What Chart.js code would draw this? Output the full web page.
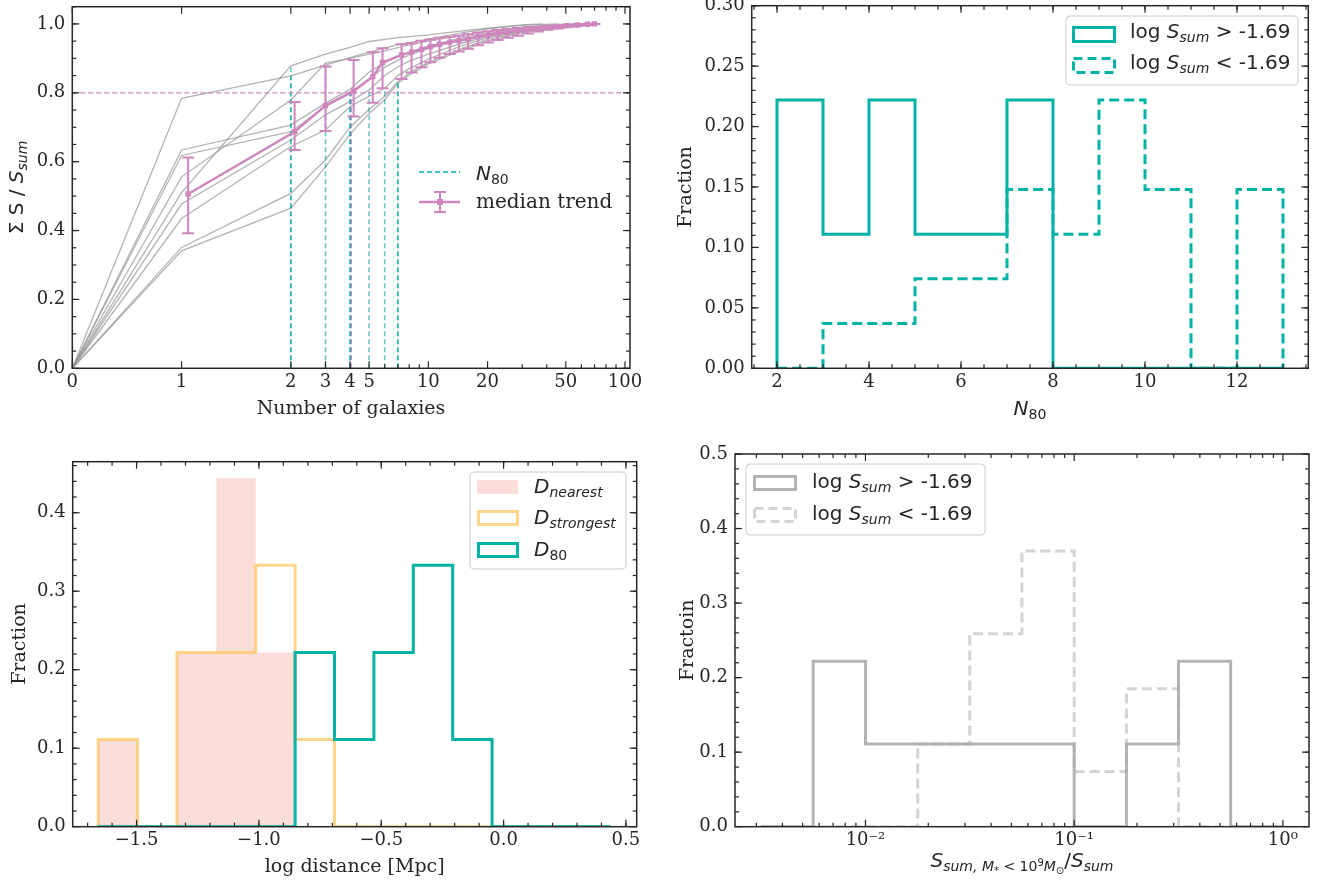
<!DOCTYPE html>
<html>
<head>
<meta charset="utf-8">
<script src="https://cdn.jsdelivr.net/npm/chart.js"></script>
<style>
  body { margin: 0; background: #fff; }
  #fig { position: relative; width: 1323px; height: 884px; overflow: hidden; }
  #fig canvas { position: absolute; }
</style>
</head>
<body>
<div id="fig">
  <canvas id="cum"></canvas>
  <canvas id="n80hist"></canvas>
  <canvas id="dist"></canvas>
  <canvas id="lowmass"></canvas>
</div>
<script>
// cumulative flux fraction vs. number of galaxies, one curve per bright group
const groupCurves = [
  [[0,0],[1,0.784],[2,0.849],[3,0.880],[4,0.902],[5,0.918],[6,0.930],[7,0.940],[8,0.946],[10,0.956],[15,0.975],[20,0.986],[30,0.996],[45,1.0]],
  [[0,0],[1,0.510],[2,0.878],[3,0.912],[4,0.932],[5,0.949],[6,0.955],[7,0.960],[8,0.963],[10,0.968],[15,0.980],[20,0.988],[30,0.997],[38,1.0]],
  [[0,0],[1,0.556],[2,0.779],[3,0.886],[4,0.900],[5,0.912],[6,0.922],[7,0.931],[8,0.939],[10,0.950],[15,0.968],[20,0.979],[30,0.990],[50,1.0]],
  [[0,0],[1,0.634],[2,0.706],[3,0.770],[4,0.810],[5,0.860],[6,0.888],[7,0.906],[8,0.918],[10,0.936],[15,0.960],[20,0.974],[30,0.988],[55,1.0]],
  [[0,0],[1,0.618],[2,0.687],[3,0.760],[4,0.800],[5,0.840],[6,0.874],[7,0.895],[8,0.910],[10,0.928],[15,0.955],[20,0.970],[30,0.985],[60,1.0]],
  [[0,0],[1,0.477],[2,0.663],[3,0.736],[4,0.775],[5,0.808],[6,0.850],[7,0.875],[8,0.892],[10,0.912],[15,0.945],[20,0.964],[30,0.983],[65,1.0]],
  [[0,0],[1,0.435],[2,0.644],[3,0.692],[4,0.760],[5,0.790],[6,0.813],[7,0.850],[8,0.870],[10,0.898],[15,0.938],[20,0.960],[30,0.980],[70,1.0]],
  [[0,0],[1,0.351],[2,0.508],[3,0.605],[4,0.700],[5,0.752],[6,0.790],[7,0.832],[8,0.858],[10,0.888],[15,0.930],[20,0.955],[30,0.978],[72,1.0]],
  [[0,0],[1,0.341],[2,0.465],[3,0.585],[4,0.680],[5,0.740],[6,0.780],[7,0.828],[8,0.852],[10,0.884],[15,0.925],[20,0.950],[30,0.975],[75,1.0]]
];
const groupN80 = [2, 2, 3, 4, 4, 5, 6, 7, 7];

// median trend with 1-sigma spread
const medX  = [1.06, 2.09, 3.0, 4.17, 5.22, 5.85, 7.31, 8.22, 9.23, 10.25, 11.4, 12.85, 14.3, 15.9, 17.9, 20.1, 22.5, 25.3, 28.5, 32.0, 36.0, 40.4, 45.4, 50.9, 57.3, 64.4, 69.8];
const medY  = [0.506, 0.687, 0.763, 0.805, 0.847, 0.888, 0.910, 0.918, 0.926, 0.934, 0.941, 0.947, 0.951, 0.956, 0.963, 0.968, 0.972, 0.976, 0.980, 0.984, 0.987, 0.990, 0.993, 0.995, 0.997, 0.999, 1.0];
const medHi = [0.612, 0.773, 0.876, 0.895, 0.918, 0.929, 0.941, 0.944, 0.951, 0.955, 0.960, 0.963, 0.966, 0.970, 0.975, 0.979, 0.982, 0.985, 0.988, 0.990, 0.992, 0.994, 0.996, 0.997, 0.999, 1.0, 1.0];
const medLo = [0.392, 0.634, 0.689, 0.731, 0.771, 0.813, 0.840, 0.859, 0.874, 0.889, 0.902, 0.913, 0.920, 0.928, 0.938, 0.946, 0.953, 0.960, 0.966, 0.972, 0.978, 0.983, 0.987, 0.991, 0.994, 0.997, 1.0];
const fracLevel = 0.8;
const medianN80 = 4.05;

// N80 histograms
const n80Edges = [2, 3, 4, 5, 6, 7, 8, 9, 10, 11, 12, 13];
const n80High  = [0.222, 0.111, 0.222, 0.111, 0.111, 0.222, 0, 0, 0, 0, 0];
const n80Low   = [0, 0.037, 0.037, 0.074, 0.074, 0.148, 0.111, 0.222, 0.148, 0, 0.148];

// log distance histograms [Mpc]
const distEdges  = [-1.657, -1.496, -1.335, -1.174, -1.013, -0.852, -0.691, -0.530, -0.369, -0.208, -0.047, 0.114, 0.275, 0.436];
const dNearest   = [0.111, 0, 0.222, 0.444, 0.222, 0, 0, 0, 0, 0, 0, 0, 0];
const dStrongest = [0.111, 0, 0.222, 0.222, 0.333, 0.111, 0, 0, 0, 0, 0, 0, 0];
const d80        = [0, 0, 0, 0, 0, 0.222, 0.111, 0.222, 0.333, 0.111, 0, 0, 0];

// flux fraction from low-mass members
const lowEdges = [0.00316, 0.00562, 0.01, 0.0178, 0.0316, 0.0562, 0.1, 0.178, 0.316, 0.562, 1.0];
const lowHigh  = [0, 0.222, 0.111, 0.111, 0.111, 0.111, 0, 0.111, 0.222, 0];
const lowLow   = [0, 0, 0, 0.111, 0.259, 0.370, 0.074, 0.185, 0, 0];

const SERIF = '"DejaVu Serif", serif';
const SANS = '"DejaVu Sans", sans-serif';
const INK = '#262626';
const TEAL = '#00b3a4';
const PINK = '#cf86be';

// symmetric log axis (linear below linthresh, log above), like matplotlib's symlog
const LINTHRESH = 2, LINSCALE = 1 / (1 - 1 / 10);
function symT(v) {
  const a = Math.abs(v);
  const t = a <= LINTHRESH ? a / LINTHRESH * LINSCALE : LINSCALE + Math.log10(a / LINTHRESH);
  return v < 0 ? -t : t;
}
function symInv(t) {
  const a = Math.abs(t);
  const v = a <= LINSCALE ? a / LINSCALE * LINTHRESH : LINTHRESH * Math.pow(10, a - LINSCALE);
  return t < 0 ? -v : v;
}
class SymlogScale extends Chart.Scale {
  static id = 'symlog';
  static defaults = {};
  determineDataLimits() { this.min = this.options.min; this.max = this.options.max; }
  buildTicks() { return []; }
  configure() {
    super.configure();
    this._t0 = symT(this.min);
    this._tRange = symT(this.max) - this._t0;
  }
  getPixelForValue(v) { return this.getPixelForDecimal((symT(v) - this._t0) / this._tRange); }
  getValueForPixel(p) { return symInv(this.getDecimalForPixel(p) * this._tRange + this._t0); }
}
Chart.register(SymlogScale);

function steps(from, to, step) {
  const out = [];
  for (let v = from; v <= to + 1e-9; v += step) out.push(Math.round(v * 1e6) / 1e6);
  return out;
}

// minor tick positions per canvas
const minorTicks = {
  cum:     { x: [6, 7, 8, 9, 30, 40, 60, 70, 80, 90], y: steps(0.05, 1.05, 0.05) },
  n80hist: { x: steps(1.5, 13.5, 0.5), y: steps(0.01, 0.3, 0.01) },
  dist:    { x: steps(-1.7, 0.5, 0.1), y: steps(0.02, 0.46, 0.02) },
  lowmass: { x: [0.003,0.004,0.005,0.006,0.007,0.008,0.009,0.02,0.03,0.04,0.05,0.06,0.07,0.08,0.09,0.2,0.3,0.4,0.5,0.6,0.7,0.8,0.9],
             y: steps(0.02, 0.5, 0.02) }
};

// inward ticks on all four sides plus the frame
const frameTicks = {
  id: 'frameTicks',
  afterDraw(chart) {
    const { ctx, chartArea: a } = chart;
    const xs = chart.scales.x, ys = chart.scales.y;
    const minor = minorTicks[chart.canvas.id];
    ctx.save();
    ctx.strokeStyle = INK;
    ctx.lineWidth = 1.2;
    const seg = (x1, y1, x2, y2) => { ctx.beginPath(); ctx.moveTo(x1, y1); ctx.lineTo(x2, y2); ctx.stroke(); };
    const xt = (v, len) => {
      const p = xs.getPixelForValue(v);
      if (p < a.left - 0.5 || p > a.right + 0.5) return;
      seg(p, a.bottom, p, a.bottom - len); seg(p, a.top, p, a.top + len);
    };
    const yt = (v, len) => {
      const p = ys.getPixelForValue(v);
      if (p < a.top - 0.5 || p > a.bottom + 0.5) return;
      seg(a.left, p, a.left + len, p); seg(a.right, p, a.right - len, p);
    };
    xs.ticks.forEach(t => xt(t.value, 7));
    ys.ticks.forEach(t => yt(t.value, 7));
    minor.x.forEach(v => xt(v, 4));
    minor.y.forEach(v => yt(v, 4));
    ctx.lineWidth = 1.5;
    ctx.strokeRect(a.left, a.top, a.right - a.left, a.bottom - a.top);
    ctx.restore();
  }
};

// text runs: [text, flags, relative size, baseline shift in em]; flags: i = italic, s = serif
function rich(ctx, parts, x, y, size, align, rotate) {
  ctx.save();
  ctx.translate(x, y);
  if (rotate) ctx.rotate(-Math.PI / 2);
  const fonts = parts.map(p => (p[1].includes('i') ? 'italic ' : '') + (size * (p[2] || 1)).toFixed(1) + 'px ' + (p[1].includes('s') ? SERIF : SANS));
  const widths = parts.map((p, k) => { ctx.font = fonts[k]; return ctx.measureText(p[0]).width; });
  const total = widths.reduce((s, w) => s + w, 0);
  let cx = align === 'center' ? -total / 2 : align === 'right' ? -total : 0;
  ctx.fillStyle = INK;
  ctx.textAlign = 'left';
  ctx.textBaseline = 'alphabetic';
  parts.forEach((p, k) => { ctx.font = fonts[k]; ctx.fillText(p[0], cx, (p[3] || 0) * size); cx += widths[k]; });
  ctx.restore();
}

function legendBox(ctx, x, y, w, h) {
  ctx.save();
  ctx.fillStyle = 'rgba(255,255,255,0.8)';
  ctx.strokeStyle = '#cccccc';
  ctx.lineWidth = 1;
  ctx.beginPath();
  ctx.roundRect(x, y, w, h, 4);
  ctx.fill();
  ctx.stroke();
  ctx.restore();
}

function patch(ctx, x, y, w, h, stroke, dash, fill) {
  ctx.save();
  if (fill) { ctx.fillStyle = fill; ctx.fillRect(x, y, w, h); }
  if (stroke) {
    ctx.strokeStyle = stroke;
    ctx.lineWidth = 3;
    ctx.setLineDash(dash || []);
    ctx.strokeRect(x, y, w, h);
  }
  ctx.restore();
}

// step outline of a histogram: horizontal run across each bin, vertical at edges
function stepPoints(edges, fracs) {
  const pts = [{ x: edges[0], y: 0 }];
  fracs.forEach((f, i) => pts.push({ x: edges[i], y: f }));
  pts.push({ x: edges[edges.length - 1], y: 0 });
  return pts;
}

function fixedTicks(values) {
  return s => { s.ticks = values.map(v => ({ value: v })); };
}

function axis(extra, ticks) {
  return Object.assign({
    grid: { display: false, drawTicks: false },
    border: { display: false },
    ticks: Object.assign({ font: { family: SERIF, size: 18 }, color: INK, autoSkip: false, maxRotation: 0, minRotation: 0 }, ticks)
  }, extra);
}

function noPad(s) {
  s.paddingTop = 0; s.paddingBottom = 0; s.paddingLeft = 0; s.paddingRight = 0;
}

function makeChart(id, box, area, datasets, xAxis, yAxis, draw) {
  const canvas = document.getElementById(id);
  canvas.style.left = box.x + 'px';
  canvas.style.top = box.y + 'px';
  canvas.width = box.w;
  canvas.height = box.h;
  xAxis.afterFit = s => { s.height = box.y + box.h - area.bottom; noPad(s); };
  yAxis.afterFit = s => { s.width = area.left - box.x; noPad(s); };
  return new Chart(canvas.getContext('2d'), {
    type: 'line',
    data: { datasets },
    options: {
      responsive: false,
      animation: false,
      devicePixelRatio: 1,
      layout: { autoPadding: false, padding: { top: area.top - box.y, right: box.x + box.w - area.right, left: 0, bottom: 0 } },
      elements: { point: { radius: 0 }, line: { tension: 0 } },
      plugins: { legend: { display: false }, tooltip: { enabled: false } },
      scales: { x: xAxis, y: yAxis }
    },
    plugins: [frameTicks, { id: id + 'Text', afterDraw: chart => draw(chart.ctx, chart) }]
  });
}

const xy = pairs => pairs.map(p => ({ x: p[0], y: p[1] }));
const valueAt = (curve, n) => curve.find(p => p[0] === n)[1];

// ---- top left: cumulative fraction curves ----
const cumSets = [];
cumSets.push({
  data: medX.map((x, i) => ({ x, y: medY[i] })),
  borderColor: PINK, borderWidth: 2.5, pointRadius: 3.8, pointStyle: 'rect',
  pointBackgroundColor: PINK, pointBorderWidth: 0, order: 0
});
cumSets.push({ data: [{ x: 0, y: fracLevel }, { x: 106, y: fracLevel }], borderColor: PINK, borderWidth: 1.3, borderDash: [5, 3], order: 1 });
cumSets.push({ data: [{ x: medianN80, y: 0 }, { x: medianN80, y: fracLevel }], borderColor: PINK, borderWidth: 1.6, borderDash: [5, 3], order: 3 });
groupN80.forEach((n, i) => cumSets.push({
  data: [{ x: n, y: 0 }, { x: n, y: valueAt(groupCurves[i], n) }],
  borderColor: 'rgba(0,170,155,0.6)', borderWidth: 1.6, borderDash: [5, 3], order: 2
}));
groupCurves.forEach(c => cumSets.push({ data: xy(c), borderColor: 'rgba(150,150,150,0.72)', borderWidth: 1.3, order: 4 }));

makeChart('cum', { x: 0, y: 0, w: 660, h: 440 }, { left: 72.3, top: 6.7, right: 630, bottom: 368.3 }, cumSets,
  axis({ type: 'symlog', min: 0, max: 106, afterBuildTicks: fixedTicks([0, 1, 2, 3, 4, 5, 10, 20, 50, 100]) },
       { padding: 3, callback: v => String(v) }),
  axis({ type: 'linear', min: 0, max: 1.05, afterBuildTicks: fixedTicks([0, 0.2, 0.4, 0.6, 0.8, 1.0]) },
       { padding: 7, callback: v => v.toFixed(1) }),
  (ctx, chart) => {
    const xs = chart.scales.x, ys = chart.scales.y;
    ctx.save();
    ctx.strokeStyle = PINK;
    ctx.lineWidth = 2;
    medX.forEach((x, i) => {
      const px = xs.getPixelForValue(x), lo = ys.getPixelForValue(medLo[i]), hi = ys.getPixelForValue(medHi[i]);
      ctx.beginPath();
      ctx.moveTo(px, lo); ctx.lineTo(px, hi);
      ctx.moveTo(px - 6, lo); ctx.lineTo(px + 6, lo);
      ctx.moveTo(px - 6, hi); ctx.lineTo(px + 6, hi);
      ctx.stroke();
    });
    // legend
    ctx.strokeStyle = TEAL; ctx.lineWidth = 1.6; ctx.setLineDash([5, 3]);
    ctx.beginPath(); ctx.moveTo(419, 172); ctx.lineTo(460, 172); ctx.stroke();
    ctx.setLineDash([]);
    ctx.strokeStyle = PINK; ctx.lineWidth = 2.5;
    ctx.beginPath(); ctx.moveTo(419, 202); ctx.lineTo(460, 202); ctx.stroke();
    ctx.lineWidth = 2;
    ctx.beginPath();
    ctx.moveTo(440, 192); ctx.lineTo(440, 212);
    ctx.moveTo(434, 192); ctx.lineTo(446, 192);
    ctx.moveTo(434, 212); ctx.lineTo(446, 212);
    ctx.stroke();
    ctx.fillStyle = PINK; ctx.fillRect(437, 199, 6, 6);
    ctx.restore();
    rich(ctx, [['N', 'i'], ['80', '', 0.7, 0.2]], 476, 180, 20, 'left');
    rich(ctx, [['median trend', 's']], 476, 208, 20, 'left');
    rich(ctx, [['Number of galaxies', 's']], 351, 414, 19, 'center');
    rich(ctx, [['\u03a3 S / ', ''], ['S', 'i'], ['sum', 'i', 0.7, 0.22]], 23, 187.5, 20, 'center', true);
  });

// ---- top right: N80 distributions ----
makeChart('n80hist', { x: 660, y: 0, w: 663, h: 440 }, { left: 751.7, top: 5.7, right: 1308.3, bottom: 368.3 }, [
    { data: stepPoints(n80Edges, n80High), stepped: 'before', borderColor: TEAL, borderWidth: 3, order: 1 },
    { data: stepPoints(n80Edges, n80Low), stepped: 'before', borderColor: TEAL, borderWidth: 3, borderDash: [10, 5], order: 0 }
  ],
  axis({ type: 'linear', min: 1.45, max: 13.55, afterBuildTicks: fixedTicks([2, 4, 6, 8, 10, 12]) },
       { padding: 3, callback: v => String(v) }),
  axis({ type: 'linear', min: 0, max: 0.3, afterBuildTicks: fixedTicks([0, 0.05, 0.1, 0.15, 0.2, 0.25, 0.3]) },
       { padding: 7, callback: v => v.toFixed(2) }),
  ctx => {
    legendBox(ctx, 406, 16, 232, 69);
    patch(ctx, 413.5, 27.5, 41, 14, TEAL);
    patch(ctx, 413.5, 58.5, 41, 14, TEAL, [9, 5]);
    rich(ctx, [['log ', ''], ['S', 'i'], ['sum', 'i', 0.7, 0.22], [' > -1.69', '']], 470, 38, 20, 'left');
    rich(ctx, [['log ', ''], ['S', 'i'], ['sum', 'i', 0.7, 0.22], [' < -1.69', '']], 470, 69, 20, 'left');
    rich(ctx, [['N', 'i'], ['80', '', 0.7, 0.2]], 370, 415, 20, 'center');
    rich(ctx, [['Fraction', 's']], 31, 187, 19, 'center', true);
  });

// ---- bottom left: distance distributions ----
makeChart('dist', { x: 0, y: 440, w: 660, h: 444 }, { left: 72.7, top: 461.7, right: 636.7, bottom: 826.7 }, [
    { data: stepPoints(distEdges, d80), stepped: 'before', borderColor: TEAL, borderWidth: 3, order: 0 },
    { data: stepPoints(distEdges, dStrongest), stepped: 'before', borderColor: 'rgba(253,200,100,0.75)', borderWidth: 3, order: 1 },
    { data: stepPoints(distEdges, dNearest), stepped: 'before', borderWidth: 0, borderColor: 'rgba(0,0,0,0)',
      fill: 'origin', backgroundColor: 'rgba(245,170,160,0.4)', order: 2 }
  ],
  axis({ type: 'linear', min: -1.761, max: 0.544, afterBuildTicks: fixedTicks([-1.5, -1.0, -0.5, 0.0, 0.5]) },
       { padding: 3, callback: v => v.toFixed(1).replace('-', '\u2212') }),
  axis({ type: 'linear', min: 0, max: 0.465, afterBuildTicks: fixedTicks([0, 0.1, 0.2, 0.3, 0.4]) },
       { padding: 7, callback: v => v.toFixed(1) }),
  ctx => {
    legendBox(ctx, 470, 32, 156, 97);
    patch(ctx, 477, 40, 41, 14, null, null, 'rgba(245,170,160,0.4)');
    patch(ctx, 478.5, 71.5, 39, 13, 'rgba(253,200,100,0.75)');
    patch(ctx, 478.5, 103.5, 39, 13, TEAL);
    rich(ctx, [['D', 'i'], ['nearest', 'i', 0.7, 0.2]], 534, 53, 20, 'left');
    rich(ctx, [['D', 'i'], ['strongest', 'i', 0.7, 0.2]], 534, 84, 20, 'left');
    rich(ctx, [['D', 'i'], ['80', '', 0.7, 0.2]], 534, 116, 20, 'left');
    rich(ctx, [['log distance [Mpc]', 's']], 354.7, 432, 19, 'center');
    rich(ctx, [['Fraction', 's']], 25, 204, 19, 'center', true);
  });

// ---- bottom right: low-mass flux fraction ----
const supLabels = { 0.01: '10\u207b\u00b2', 0.1: '10\u207b\u00b9', 1: '10\u2070' };
makeChart('lowmass', { x: 660, y: 440, w: 663, h: 444 }, { left: 735, top: 454, right: 1309, bottom: 826.7 }, [
    { data: stepPoints(lowEdges, lowHigh), stepped: 'before', borderColor: 'rgba(140,140,140,0.65)', borderWidth: 3, order: 1 },
    { data: stepPoints(lowEdges, lowLow), stepped: 'before', borderColor: 'rgba(170,170,170,0.5)', borderWidth: 3, borderDash: [10, 5], order: 0 }
  ],
  axis({ type: 'logarithmic', min: Math.pow(10, -2.625), max: Math.pow(10, 0.125), afterBuildTicks: fixedTicks([0.01, 0.1, 1]) },
       { padding: 3, callback: v => supLabels[v] }),
  axis({ type: 'linear', min: 0, max: 0.5, afterBuildTicks: fixedTicks([0, 0.1, 0.2, 0.3, 0.4, 0.5]) },
       { padding: 7, callback: v => v.toFixed(1) }),
  ctx => {
    legendBox(ctx, 86, 24, 239, 71);
    patch(ctx, 94.5, 36.5, 41, 13, 'rgba(140,140,140,0.65)');
    patch(ctx, 94.5, 68.5, 41, 13, 'rgba(170,170,170,0.5)', [9, 5]);
    rich(ctx, [['log ', ''], ['S', 'i'], ['sum', 'i', 0.7, 0.22], [' > -1.69', '']], 152, 48, 20, 'left');
    rich(ctx, [['log ', ''], ['S', 'i'], ['sum', 'i', 0.7, 0.22], [' < -1.69', '']], 152, 80, 20, 'left');
    rich(ctx, [['S', 'i'], ['sum, ', 'i', 0.7, 0.22], ['M', 'i', 0.7, 0.22], ['*', '', 0.5, 0.34], [' < 10', '', 0.7, 0.22],
               ['9', '', 0.5, -0.05], ['M', 'i', 0.7, 0.22], ['\u2299', '', 0.5, 0.36], ['/', ''], ['S', 'i'], ['sum', 'i', 0.7, 0.22]],
         362, 426.7, 20, 'center');
    rich(ctx, [['Fractoin', 's']], 33, 200.3, 19, 'center', true);
  });
</script>
</body>
</html>
